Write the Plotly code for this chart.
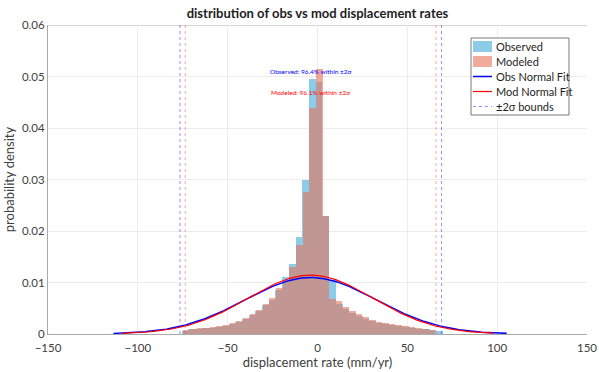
import numpy as np
import plotly.graph_objects as go

# ---------------- data ----------------
# Observed histogram (probability density), bins start at obs_start with width obs_width
obs_start = -75.6
obs_width = 3.73
obs_density = [0.0006, 0.0009, 0.0010, 0.0011, 0.0012, 0.0014, 0.0016, 0.0019,
               0.0023, 0.0029, 0.0036, 0.0045, 0.0056, 0.0067, 0.0085, 0.0110,
               0.0136, 0.0188, 0.0300, 0.0495, 0.0490, 0.0230, 0.0105, 0.0058,
               0.0049, 0.0041, 0.0035, 0.0030, 0.0026, 0.0022, 0.0019, 0.0017,
               0.0015, 0.0013, 0.0012, 0.0010, 0.0009, 0.0008, 0.0006]

# Modeled histogram
mod_start = -74.7
mod_width = 3.69
mod_density = [0.0008, 0.0010, 0.0011, 0.0012, 0.0013, 0.0015, 0.0017, 0.0021,
               0.0025, 0.0031, 0.0038, 0.0047, 0.0059, 0.0070, 0.0089, 0.0105,
               0.0131, 0.0173, 0.0276, 0.0439, 0.0515, 0.0229, 0.0068, 0.0064,
               0.0053, 0.0045, 0.0038, 0.0033, 0.0028, 0.0024, 0.0021, 0.0019,
               0.0017, 0.0015, 0.0013, 0.0011, 0.0010, 0.0008]

# Normal fit parameters and data ranges
obs_mu, obs_sigma = -3.75, 36.4
mod_mu, mod_sigma = -3.85, 34.9
obs_range = [-113.6, 105.3]
mod_range = [-109.0, 98.0]

obs_label = "Observed: 96.4% within ±2σ"
mod_label = "Modeled: 96.1% within ±2σ"

legend_names = ["Observed", "Modeled", "Obs Normal Fit", "Mod Normal Fit", "±2σ bounds"]

x_ticks = [-150, -100, -50, 0, 50, 100, 150]
y_ticks = [0, 0.01, 0.02, 0.03, 0.04, 0.05, 0.06]
y_tick_text = ["0", "0.01", "0.02", "0.03", "0.04", "0.05", "0.06"]

# ---------------- styles ----------------
FONT = "Lato"
C_OBS = "rgb(140,204,232)"
C_MOD = "rgb(230,115,91)"
C_MOD_SW = "rgb(240,171,156)"
C_OFIT = "rgb(0,0,255)"
C_MFIT = "rgb(255,0,0)"
C_OB = "rgba(70,70,255,0.6)"
C_MB = "rgba(255,80,80,0.5)"

W, H = 599, 372
ML, MR, MT, MB = 48, 12, 25, 38


def px_x(px):
    return (px - ML) / (W - ML - MR)


def px_y(py):
    return (H - MB - py) / (H - MT - MB)


# ---------------- derived ----------------
obs_centers = obs_start + obs_width * (np.arange(len(obs_density)) + 0.5)
mod_centers = mod_start + mod_width * (np.arange(len(mod_density)) + 0.5)


def npdf(x, mu, s):
    return np.exp(-0.5 * ((x - mu) / s) ** 2) / (s * np.sqrt(2 * np.pi))


xo = np.linspace(obs_range[0], obs_range[1], 300)
xm = np.linspace(mod_range[0], mod_range[1], 300)

fig = go.Figure()

fig.add_trace(go.Bar(x=obs_centers, y=obs_density, width=obs_width, name=legend_names[0],
                     marker=dict(color=C_OBS, line=dict(width=0)), showlegend=False))
fig.add_trace(go.Bar(x=mod_centers, y=mod_density, width=mod_width, name=legend_names[1],
                     marker=dict(color=C_MOD, line=dict(width=0)), opacity=0.6,
                     showlegend=False))
fig.add_trace(go.Scatter(x=xo, y=npdf(xo, obs_mu, obs_sigma), mode="lines",
                         name=legend_names[2], showlegend=False,
                         line=dict(color=C_OFIT, width=1.5)))
fig.add_trace(go.Scatter(x=xm, y=npdf(xm, mod_mu, mod_sigma), mode="lines",
                         name=legend_names[3], showlegend=False,
                         line=dict(color=C_MFIT, width=1.2)))

ytop = y_ticks[-1]
for b in [obs_mu - 2 * obs_sigma, obs_mu + 2 * obs_sigma]:
    fig.add_trace(go.Scatter(x=[b, b], y=[0, ytop], mode="lines", name=legend_names[4],
                             showlegend=False,
                             line=dict(color=C_OB, width=1, dash="dot")))
for b in [mod_mu - 2 * mod_sigma, mod_mu + 2 * mod_sigma]:
    fig.add_trace(go.Scatter(x=[b, b], y=[0, ytop], mode="lines", showlegend=False,
                             line=dict(color=C_MB, width=1, dash="dot")))

fig.add_annotation(x=obs_mu, y=0.0509, text=obs_label, showarrow=False,
                   font=dict(family=FONT, size=6.5, color=C_OFIT))
fig.add_annotation(x=mod_mu, y=0.0468, text=mod_label, showarrow=False,
                   font=dict(family=FONT, size=6.5, color=C_MFIT))

# top border of the axes box
fig.add_shape(type="line", xref="paper", yref="y", x0=0, x1=1, y0=ytop, y1=ytop,
              line=dict(color="rgb(170,170,170)", width=1), layer="below")

# ---------------- legend box (drawn by hand to match compact MATLAB legend) ----------------
fig.add_shape(type="rect", xref="paper", yref="paper",
              x0=px_x(471), x1=px_x(569), y0=px_y(115), y1=px_y(38),
              line=dict(color="rgb(120,120,120)", width=1), fillcolor="white", layer="above")
item_py = [46.5, 61.5, 76.5, 91.5, 106.5]
sx0, sx1, tx = px_x(473), px_x(492), px_x(494)
fig.add_shape(type="rect", xref="paper", yref="paper", x0=sx0, x1=sx1,
              y0=px_y(item_py[0] + 5.5), y1=px_y(item_py[0] - 5.5),
              line=dict(width=0), fillcolor=C_OBS, layer="above")
fig.add_shape(type="rect", xref="paper", yref="paper", x0=sx0, x1=sx1,
              y0=px_y(item_py[1] + 5.5), y1=px_y(item_py[1] - 5.5),
              line=dict(width=0), fillcolor=C_MOD_SW, layer="above")
for py, col, dash, w in [(item_py[2], C_OFIT, "solid", 1.5),
                         (item_py[3], C_MFIT, "solid", 1.2),
                         (item_py[4], C_OB, "dot", 1)]:
    fig.add_shape(type="line", xref="paper", yref="paper", x0=sx0, x1=sx1,
                  y0=px_y(py), y1=px_y(py), line=dict(color=col, width=w, dash=dash),
                  layer="above")
for name, py in zip(legend_names, item_py):
    fig.add_annotation(xref="paper", yref="paper", x=tx, y=px_y(py), text=name,
                       showarrow=False, xanchor="left", yanchor="middle",
                       font=dict(family=FONT, size=11, color="rgb(30,30,30)"))

fig.update_layout(
    width=W, height=H,
    margin=dict(l=ML, r=MR, t=MT, b=MB, autoexpand=False),
    paper_bgcolor="white", plot_bgcolor="white",
    barmode="overlay", bargap=0,
    font=dict(family=FONT, size=11, color="rgb(64,64,64)"),
    title=dict(text="<b>distribution of obs vs mod displacement rates</b>",
               x=0.5, xref="paper", xanchor="center", y=0.965, yanchor="middle",
               font=dict(family=FONT, size=13, color="rgb(30,30,30)")),
    showlegend=False,
)
fig.update_xaxes(range=[-150, 150], tickvals=x_ticks, showgrid=True,
                 gridcolor="rgb(236,236,236)", zeroline=False, showline=True,
                 linecolor="rgb(170,170,170)", ticks="", ticklabelstandoff=3,
                 tickfont=dict(size=11.5), automargin=False,
                 title=dict(text="displacement rate (mm/yr)", standoff=2,
                            font=dict(family=FONT, size=13)))
fig.update_yaxes(range=[0, ytop], tickvals=y_ticks, ticktext=y_tick_text, showgrid=True,
                 gridcolor="rgb(236,236,236)", zeroline=False, showline=True,
                 linecolor="rgb(170,170,170)", ticks="", tickfont=dict(size=11.5),
                 automargin=False,
                 title=dict(text="probability density", standoff=4,
                            font=dict(family=FONT, size=13)))

fig.write_html("out.html")
